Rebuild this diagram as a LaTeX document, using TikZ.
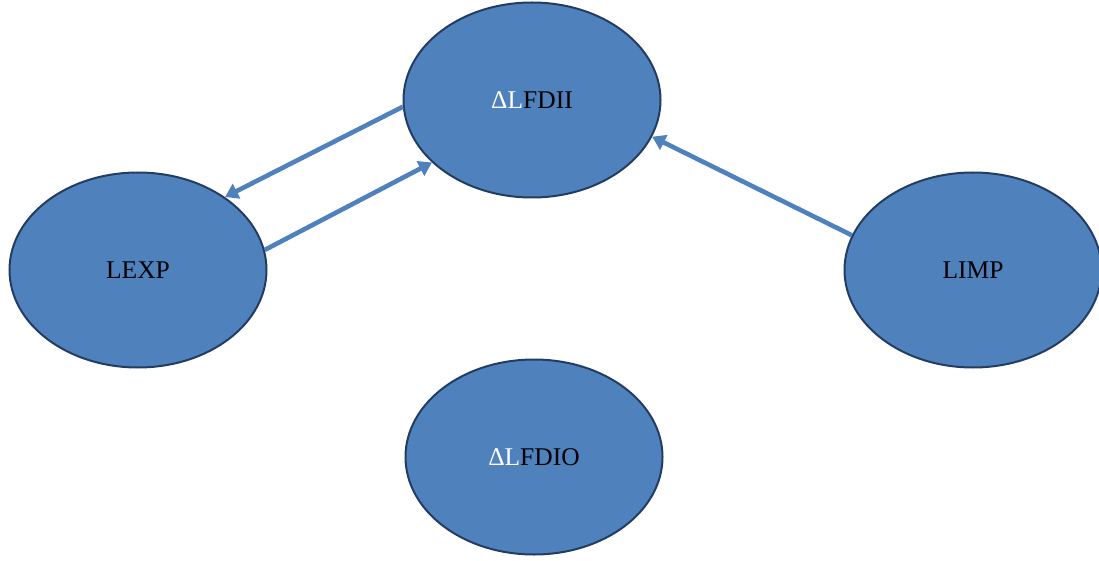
\documentclass[tikz,border=0pt]{standalone}
\usepackage{fontspec}
\setmainfont{Liberation Serif}
\usetikzlibrary{shapes.geometric,arrows.meta}
\definecolor{fillblue}{HTML}{4F81BD}
\definecolor{edgeblue}{HTML}{233D62}
\tikzset{
  bubble/.style={ellipse, draw=edgeblue, line width=2pt, fill=fillblue,
    minimum width=257pt, minimum height=195pt, inner sep=0pt, font=\fontsize{25.5}{30}\selectfont},
  link/.style={draw=fillblue, line width=4.6pt, -{Triangle[length=13pt,width=16pt]}}
}
\begin{document}
\begin{tikzpicture}[x=1pt,y=-1pt]
\useasboundingbox (0,0) rectangle (1099,561);
\clip (0,0) rectangle (1099,561);
\node[bubble] (fdii) at (532,100) {\textcolor{white}{ΔL}FDII};
\node[bubble] (lexp) at (138,270) {LEXP};
\node[bubble] (limp) at (973,270) {LIMP};
\node[bubble] (fdio) at (534,457) {\textcolor{white}{ΔL}FDIO};
\draw[link] (fdii.183) -- (lexp.40);
\draw[link] (lexp.9) -- (fdii.212);
\draw[link] (limp.164) -- (fdii.343);
\end{tikzpicture}
\end{document}
